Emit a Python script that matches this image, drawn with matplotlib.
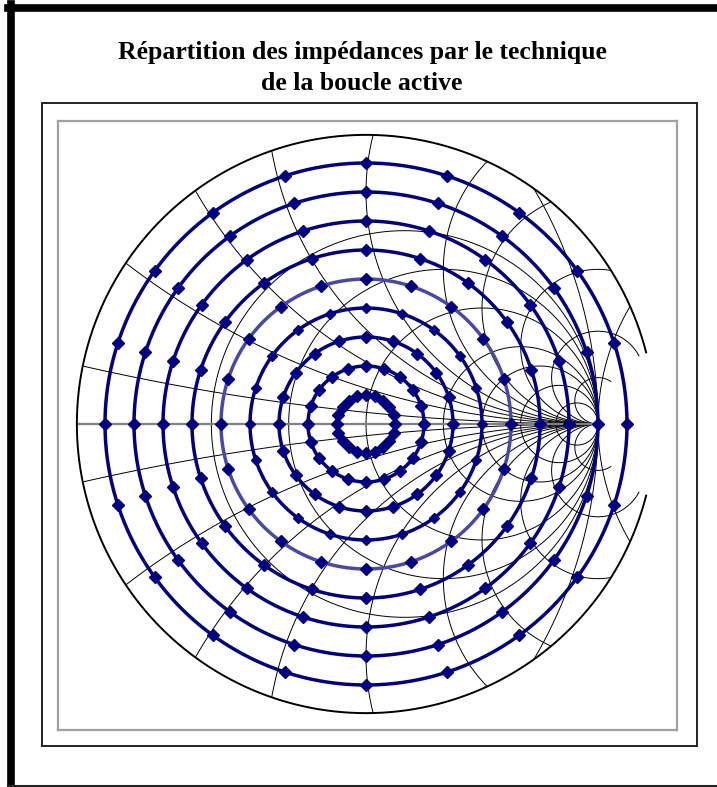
"""Load-pull impedance map drawn over an extended Smith chart grid."""

import numpy as np
import matplotlib.pyplot as plt
from matplotlib.patches import Rectangle

# Smith chart grid (normalised resistance / reactance values)
r_values = [-2, -0.5, 0, 0.2, 0.5, 1, 2, 3, 5, 10]
x_values = [0.1, 0.3, 0.5, 0.7, 1, 1.5, 2, 3, 5, 10]
r_min = -4          # lowest resistance drawn (right-hand notch)
grid_scale = 0.8    # |Gamma| = 1 of the grid, relative to the outer circle

# Measured reflection coefficients: magnitude rings x phase steps
gamma_mag = [0.1, 0.2, 0.3, 0.4, 0.5, 0.6, 0.7, 0.8, 0.9]
n_phase = 20

title_lines = ["Répartition des impédances par le technique", "de la boucle active"]

R_OUT = 0.997


def visible(gam):
    """Scale reflection coefficients to the plot and blank the hidden parts."""
    z = (1 + gam) / (1 - gam)
    w = grid_scale * gam
    w[(np.abs(w) > R_OUT) | (z.real < r_min)] = np.nan
    return w


W, H = 717, 787
fig = plt.figure(figsize=(W / 100, H / 100), dpi=100)

# page frame and chart box
fig.add_artist(plt.Line2D([11 / W, 11 / W], [0, 1 - 4 / H], color="black", lw=5.5))
fig.add_artist(plt.Line2D([8 / W, 1], [1 - 8 / H, 1 - 8 / H], color="black", lw=5.5))
fig.add_artist(plt.Line2D([8 / W, 1], [1.5 / H, 1.5 / H], color="#222222", lw=1.5))
fig.add_artist(Rectangle((42 / W, 1 - 746 / H), 655 / W, 643 / H, transform=fig.transFigure,
                         fill=False, edgecolor="#222222", lw=1.4))

for i, line in enumerate(title_lines):
    fig.text(362 / W, 1 - (53 + 30 * i) / H, line, ha="center", va="center",
             fontsize=18.5, fontweight="bold", family="Liberation Serif")

# plot area, 1 unit = 290 px, centre at (366, 424)
cx, cy, unit = 366, 424, 290
left, right, top, bottom = 58, 677, 121, 730
ax = fig.add_axes([left / W, 1 - bottom / H, (right - left) / W, (bottom - top) / H])
ax.set_xlim((left - cx) / unit, (right - cx) / unit)
ax.set_ylim((cy - bottom) / unit, (cy - top) / unit)
ax.set_xticks([])
ax.set_yticks([])
for s in ax.spines.values():
    s.set_color("#a0a0a0")
    s.set_linewidth(1.6)

theta = np.linspace(0, 2 * np.pi, 6000)

# constant resistance circles
for r in r_values:
    gam = r / (1 + r) + np.exp(1j * theta) / abs(1 + r)
    w = visible(gam)
    ax.plot(w.real, w.imag, color="black", lw=0.7, zorder=2)

# constant reactance arcs
for x in x_values:
    for sign in (1, -1):
        gam = 1 + 1j * sign / x + np.exp(1j * theta) / x
        w = visible(gam)
        ax.plot(w.real, w.imag, color="black", lw=0.7, zorder=2)

# real axis
ax.plot([-R_OUT, grid_scale], [0, 0], color="#808080", lw=1.6, zorder=2)

# outer boundary, skipping the notch where r < r_min
b = R_OUT * np.exp(1j * theta)
g = b / grid_scale
b[((1 + g) / (1 - g)).real < r_min] = np.nan
ax.plot(b.real, b.imag, color="black", lw=1.4, zorder=2)

# reflection coefficient rings
ring_t = np.linspace(0, 2 * np.pi, 400)
pts_t = np.arange(n_phase) * 2 * np.pi / n_phase
for m in gamma_mag:
    col = "#4848a8" if m == 0.5 else "#000080"
    ms = 5 if m == 0.4 else 6.5
    ax.plot(m * np.cos(ring_t), m * np.sin(ring_t), color=col, lw=2.5, zorder=3)
    ax.plot(m * np.cos(pts_t), m * np.sin(pts_t), "D", color="#000080",
            markersize=ms, zorder=4, linestyle="none")

fig.savefig("out.png", dpi=100)
